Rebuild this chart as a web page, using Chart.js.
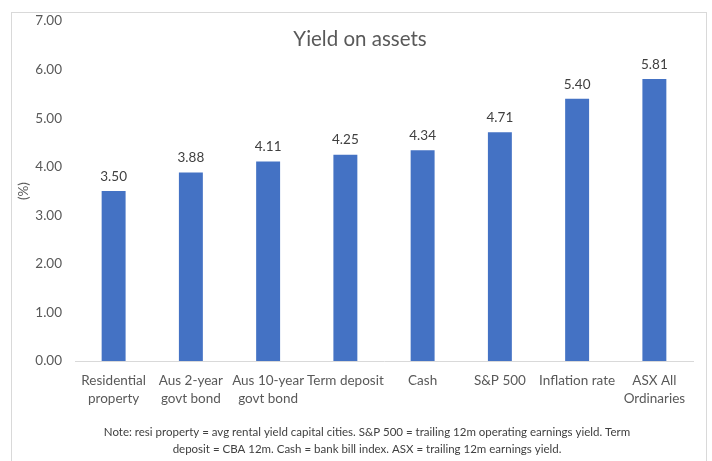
<!DOCTYPE html>
<html>
<head>
<meta charset="utf-8">
<script src="https://cdn.jsdelivr.net/npm/chart.js@4.4.1/dist/chart.umd.min.js"></script>
<style>
  html, body { margin: 0; padding: 0; background: #ffffff; }
  #wrap { width: 712px; height: 461px; position: relative; }
</style>
</head>
<body>
<div id="wrap"><canvas id="c" width="712" height="461"></canvas></div>
<script>
// Asset classes and their yields (%)
const categories = [
  ['Residential', 'property'],
  ['Aus 2-year', 'govt bond'],
  ['Aus 10-year', 'govt bond'],
  'Term deposit',
  'Cash',
  'S&P 500',
  'Inflation rate',
  ['ASX All', 'Ordinaries']
];
const yields = [3.50, 3.88, 4.11, 4.25, 4.34, 4.71, 5.40, 5.81];
const yTicks = [0, 1, 2, 3, 4, 5, 6, 7];
const titleText = 'Yield on assets';
const noteLines = [
  'Note: resi property = avg rental yield capital cities. S&P 500 = trailing 12m operating earnings yield. Term',
  'deposit = CBA 12m. Cash = bank bill index. ASX = trailing 12m earnings yield.'
];

const FONT = 'Lato, "Open Sans", sans-serif';
const GREY = '#595959';

// Thin frame around the whole chart, the title floating over the plot,
// and the source note underneath
const framePlugin = {
  id: 'frame',
  beforeDraw(chart) {
    const ctx = chart.ctx;
    ctx.save();
    ctx.fillStyle = '#ffffff';
    ctx.fillRect(0, 0, chart.width, chart.height);
    ctx.strokeStyle = '#d9d9d9';
    ctx.lineWidth = 1;
    ctx.strokeRect(11.5, 12.5, 695, 470);
    ctx.restore();
  },
  afterDraw(chart) {
    const ctx = chart.ctx;
    ctx.save();
    ctx.textAlign = 'center';
    ctx.textBaseline = 'middle';
    ctx.font = '20.5px ' + FONT;
    ctx.fillStyle = GREY;
    ctx.fillText(titleText, 360, 39);
    ctx.font = '11.5px ' + FONT;
    ctx.fillStyle = '#404040';
    noteLines.forEach((line, i) => ctx.fillText(line, 367, 432 + i * 17));
    ctx.restore();
  }
};

// Value labels above each bar
const valueLabels = {
  id: 'valueLabels',
  afterDatasetsDraw(chart) {
    const ctx = chart.ctx;
    const meta = chart.getDatasetMeta(0);
    ctx.save();
    ctx.font = '13.5px ' + FONT;
    ctx.fillStyle = '#404040';
    ctx.textAlign = 'center';
    ctx.textBaseline = 'middle';
    meta.data.forEach((bar, i) => {
      ctx.fillText(yields[i].toFixed(2), bar.x, bar.y - 14.5);
    });
    ctx.restore();
  }
};

new Chart(document.getElementById('c'), {
  type: 'bar',
  data: {
    labels: categories,
    datasets: [{
      data: yields,
      backgroundColor: '#4472C4',
      borderWidth: 0,
      barPercentage: 0.62,
      categoryPercentage: 0.5
    }]
  },
  options: {
    responsive: false,
    animation: false,
    devicePixelRatio: 1,
    layout: { padding: { left: 14, right: 19, top: 21, bottom: 48 } },
    plugins: {
      legend: { display: false },
      tooltip: { enabled: false },
      title: { display: false },
      subtitle: { display: false }
    },
    scales: {
      x: {
        afterFit(scale) { scale.height = 52; },
        grid: { display: false, drawTicks: false, tickLength: 0 },
        border: { display: true, color: '#d9d9d9' },
        ticks: {
          color: GREY,
          font: { family: FONT, size: 13.5, lineHeight: 1.33 },
          maxRotation: 0,
          autoSkip: false,
          padding: 11
        }
      },
      y: {
        min: 0,
        max: 7,
        afterFit(scale) { scale.width = 61; },
        afterBuildTicks(scale) {
          scale.ticks = yTicks.map(v => ({ value: v }));
        },
        grid: { display: false, drawTicks: false, tickLength: 0 },
        border: { display: false },
        title: {
          display: true,
          text: '(%)',
          color: GREY,
          font: { family: FONT, size: 13.5 },
          padding: { top: 2, bottom: 0 }
        },
        ticks: {
          color: GREY,
          font: { family: FONT, size: 13.5 },
          padding: 13,
          callback: v => Number(v).toFixed(2)
        }
      }
    }
  },
  plugins: [framePlugin, valueLabels]
});
</script>
</body>
</html>
